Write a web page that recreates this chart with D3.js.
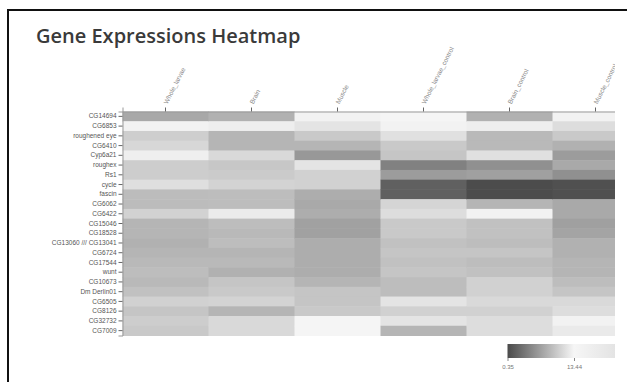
<!DOCTYPE html>
<html>
<head>
<meta charset="utf-8">
<script src="https://cdn.jsdelivr.net/npm/d3@7"></script>
<style>
  body { margin: 0; background: #fff; }
  svg { display: block; font-family: "Open Sans", "DejaVu Sans", sans-serif; }
</style>
</head>
<body>
<svg id="chart" width="627" height="382"></svg>
<script>
// samples (columns) and genes (rows)
const samples = ['Whole_larvae', 'Brain', 'Muscle', 'Whole_larvae_control', 'Brain_control', 'Muscle_control'];
const genes = ['CG14694', 'CG6853', 'roughened eye', 'CG6410', 'Cyp6a21', 'roughex', 'Rs1', 'cycle', 'fascin',
  'CG6062', 'CG6422', 'CG15046', 'CG18528', 'CG13060 /// CG13041', 'CG6724', 'CG17544', 'wunt', 'CG10673',
  'Dm Derlin01', 'CG6505', 'CG8126', 'CG32732', 'CG7009'];

// expression values, one array per sample (same order as genes)
const wholeLarvae = [7.5, 13.1, 10.4, 11.1, 12.9, 10.3, 10.3, 11.7, 9.0, 9.0, 10.7, 8.5, 8.5, 8.2, 8.5, 8.8, 9.1, 8.8, 9.4, 10.6, 9.7, 10.3, 10.0];
const brain = [8.2, 12.8, 8.5, 8.5, 11.2, 9.9, 10.2, 10.8, 9.1, 9.1, 12.6, 9.1, 8.8, 9.1, 8.5, 8.8, 8.2, 9.7, 10.0, 10.8, 8.5, 11.2, 11.2];
const muscle = [13.1, 12.1, 10.0, 8.5, 6.3, 12.1, 10.6, 10.6, 7.9, 7.6, 7.9, 7.0, 7.0, 7.9, 7.9, 7.9, 7.9, 8.5, 9.7, 9.7, 10.0, 13.4, 13.4];
const wholeLarvaeControl = [13.4, 13.1, 11.8, 10.0, 9.7, 4.5, 6.6, 2.0, 2.0, 10.9, 11.5, 10.0, 10.0, 9.4, 9.7, 9.4, 9.7, 9.1, 9.1, 12.1, 10.6, 12.1, 8.5];
const brainControl = [8.2, 12.8, 8.8, 8.8, 11.8, 5.7, 6.9, 0.5, 0.5, 8.5, 13.1, 9.4, 9.4, 9.1, 9.7, 9.1, 9.4, 10.6, 10.6, 11.2, 10.6, 11.5, 11.5];
const muscleControl = [13.1, 11.5, 10.0, 8.2, 6.6, 7.6, 5.7, 0.8, 0.8, 7.6, 7.6, 6.9, 7.2, 8.2, 8.2, 8.5, 8.5, 9.1, 9.7, 11.2, 11.5, 13.1, 12.5];

// legend stops
const legendTicks = [0.35, 13.44];
const legendMax = 26.53;

const series = [wholeLarvae, brain, muscle, wholeLarvaeControl, brainControl, muscleControl];
const cells = [];
samples.forEach((s, i) => {
  genes.forEach((g, j) => cells.push({ sample: s, gene: g, value: series[i][j] }));
});

const svg = d3.select('#chart');

// outer frame (runs off the picture on the right and bottom)
svg.append('rect')
  .attr('x', 8).attr('y', 10)
  .attr('width', 700).attr('height', 500)
  .attr('fill', 'none')
  .attr('stroke', '#111')
  .attr('stroke-width', 2);

svg.append('text')
  .attr('x', 36).attr('y', 43)
  .attr('font-size', 20)
  .attr('font-weight', 600)
  .attr('fill', '#3a3a3a')
  .text('Gene Expressions Heatmap');

svg.append('clipPath').attr('id', 'clip')
  .append('rect').attr('x', 0).attr('y', 0).attr('width', 615).attr('height', 382);

const g = svg.append('g').attr('clip-path', 'url(#clip)');

const x = d3.scaleBand().domain(samples).range([122.5, 122.5 + 86 * samples.length]);
const y = d3.scaleBand().domain(genes).range([111.5, 335.5]);

const color = d3.scaleLinear()
  .domain([legendTicks[0], legendTicks[1], legendMax])
  .range(['#4a4a4a', '#f6f6f6', '#d8d8d8']);

g.append('g')
  .selectAll('rect')
  .data(cells)
  .enter()
  .append('rect')
  .attr('x', d => x(d.sample))
  .attr('y', d => y(d.gene))
  .attr('width', x.bandwidth() + 0.5)
  .attr('height', y.bandwidth() + 0.5)
  .attr('fill', d => color(d.value));

// axes
const xAxis = g.append('g')
  .attr('transform', 'translate(0,111.5)')
  .call(d3.axisTop(x).tickSize(4).tickFormat(''));
xAxis.select('.domain').attr('stroke', '#999');
xAxis.selectAll('.tick line').attr('stroke', '#666');
xAxis.selectAll('.tick')
  .append('text')
  .attr('fill', '#888')
  .attr('font-size', 6.5)
  .attr('text-anchor', 'start')
  .attr('transform', 'translate(2,-7) rotate(-63)')
  .text(d => d);

const yAxis = g.append('g')
  .attr('transform', 'translate(122.5,0)')
  .call(d3.axisLeft(y).tickSize(4).tickPadding(2));
yAxis.select('.domain').attr('stroke', '#999');
yAxis.selectAll('.tick line').attr('stroke', '#666');
yAxis.selectAll('.tick text')
  .attr('fill', '#555')
  .attr('font-size', 6.5)
  .attr('font-family', '"Liberation Sans", Arial, sans-serif');

// legend
const lx = d3.scaleLinear().domain([legendTicks[0], legendTicks[1]]).range([507.5, 574]);
const grad = svg.append('defs').append('linearGradient')
  .attr('id', 'legend-grad')
  .attr('x1', '0%').attr('x2', '100%');
d3.range(0, 1.0001, 0.1).forEach(t => {
  const v = legendTicks[0] + t * (legendMax - legendTicks[0]);
  grad.append('stop').attr('offset', (t * 100) + '%').attr('stop-color', color(v));
});
g.append('rect')
  .attr('x', lx(legendTicks[0]))
  .attr('y', 344)
  .attr('width', lx(legendMax) - lx(legendTicks[0]))
  .attr('height', 14)
  .attr('fill', 'url(#legend-grad)');
const lAxis = g.append('g')
  .attr('transform', 'translate(0,358)')
  .call(d3.axisBottom(lx).tickValues(legendTicks).tickSize(3).tickFormat(d3.format('.2f')));
lAxis.select('.domain').remove();
lAxis.selectAll('.tick line').attr('stroke', '#888');
lAxis.selectAll('.tick text').attr('fill', '#777').attr('font-size', 6).attr('dy', '0.9em');
</script>
</body>
</html>
